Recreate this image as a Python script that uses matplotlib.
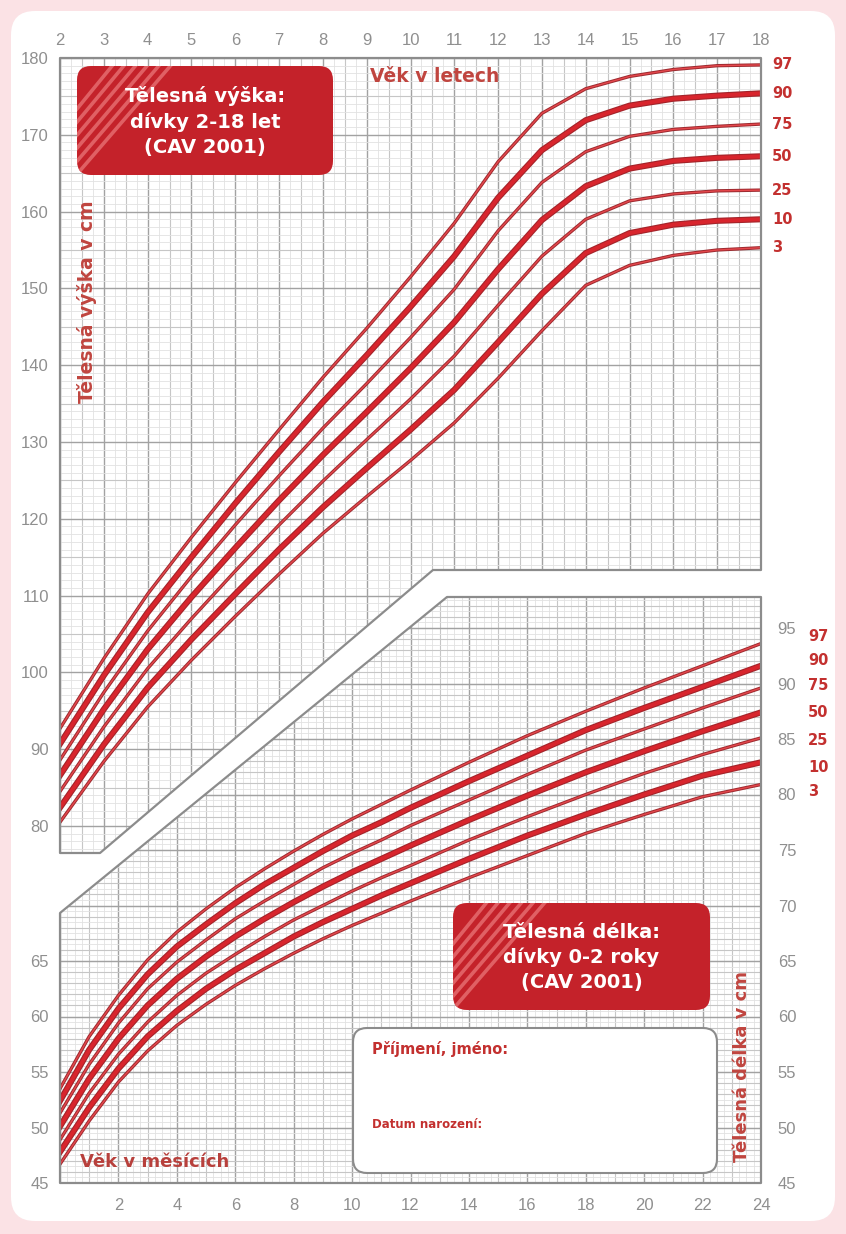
"""Growth chart: body height / length of girls (CAV 2001)
"""

import matplotlib
matplotlib.use("Agg")
import matplotlib.pyplot as plt
import matplotlib.patheffects as pe
from matplotlib.patches import FancyBboxPatch, Polygon
import numpy as np

plt.rcParams['font.family'] = ['Liberation Sans', 'DejaVu Sans']

# Height 2-18 years (cm), percentiles
age_years = [2, 3, 4, 5, 6, 7, 8, 9, 10, 11, 12, 13, 14, 15, 16, 17, 18]
height_p97 = [92.7, 101.8, 110.2, 117.6, 124.7, 131.6, 138.4, 144.8, 151.5, 158.5, 166.5, 172.8, 176.0, 177.6, 178.5, 179.0, 179.1]
height_p90 = [90.7, 99.6, 107.8, 115.0, 122.0, 128.7, 135.2, 141.3, 147.6, 154.2, 161.8, 168.0, 171.9, 173.8, 174.7, 175.1, 175.4]
height_p75 = [88.6, 97.4, 105.4, 112.5, 119.2, 125.6, 131.8, 137.6, 143.6, 149.9, 157.5, 163.8, 167.8, 169.8, 170.7, 171.1, 171.4]
height_p50 = [86.6, 95.2, 103.0, 109.8, 116.2, 122.4, 128.3, 133.9, 139.6, 145.6, 152.5, 158.9, 163.3, 165.6, 166.6, 167.0, 167.2]
height_p25 = [84.5, 92.9, 100.5, 107.0, 113.2, 119.2, 124.9, 130.3, 135.6, 141.2, 147.8, 154.2, 159.0, 161.4, 162.3, 162.7, 162.8]
height_p10 = [82.4, 90.6, 98.0, 104.3, 110.2, 116.0, 121.5, 126.6, 131.6, 136.8, 143.0, 149.3, 154.6, 157.2, 158.3, 158.8, 159.0]
height_p3 = [80.5, 88.4, 95.5, 101.6, 107.3, 112.8, 118.1, 122.9, 127.6, 132.5, 138.3, 144.5, 150.4, 153.0, 154.3, 155.0, 155.3]

# Length 0-24 months (cm)
age_months = [0, 1, 2, 3, 4, 5, 6, 7, 8, 9, 10, 11, 12, 14, 16, 18, 20, 22, 24]
length_p97 = [53.5, 58.2, 61.9, 65.1, 67.6, 69.7, 71.6, 73.3, 74.9, 76.4, 77.8, 79.1, 80.4, 82.9, 85.3, 87.5, 89.6, 91.6, 93.6]
length_p90 = [52.4, 57.0, 60.7, 63.8, 66.3, 68.3, 70.2, 71.9, 73.4, 74.9, 76.3, 77.5, 78.8, 81.2, 83.5, 85.8, 87.8, 89.7, 91.6]
length_p75 = [51.3, 55.7, 59.4, 62.5, 64.9, 66.9, 68.8, 70.4, 71.9, 73.4, 74.7, 75.9, 77.2, 79.5, 81.8, 84.0, 85.9, 87.8, 89.6]
length_p50 = [50.1, 54.4, 58.0, 61.0, 63.4, 65.4, 67.2, 68.8, 70.3, 71.7, 73.0, 74.2, 75.4, 77.7, 79.9, 82.0, 83.9, 85.7, 87.4]
length_p25 = [48.9, 53.1, 56.6, 59.5, 61.9, 63.9, 65.6, 67.2, 68.7, 70.0, 71.3, 72.5, 73.6, 75.9, 78.0, 80.0, 81.9, 83.6, 85.1]
length_p10 = [47.8, 51.8, 55.3, 58.2, 60.5, 62.5, 64.2, 65.7, 67.2, 68.5, 69.7, 70.9, 72.0, 74.2, 76.3, 78.2, 80.0, 81.7, 82.9]
length_p3 = [46.7, 50.6, 54.1, 56.9, 59.2, 61.1, 62.8, 64.3, 65.7, 67.0, 68.2, 69.3, 70.4, 72.5, 74.5, 76.5, 78.2, 79.8, 80.9]

percentile_names = ['97', '90', '75', '50', '25', '10', '3']
height_curves = [height_p97, height_p90, height_p75, height_p50, height_p25, height_p10, height_p3]
length_curves = [length_p97, length_p90, length_p75, length_p50, length_p25, length_p10, length_p3]
thick_percentiles = {'90', '50', '10'}

height_ticks = list(range(80, 181, 10))
year_ticks = list(range(2, 19))
length_ticks = list(range(45, 96, 5))
length_ticks_left = list(range(45, 66, 5))
month_ticks = list(range(2, 25, 2))

# Page layout in pixels
W, H = 846, 1234
RED = '#c4222a'
LABEL_RED = '#c3302f'
GRAY_TXT = '#8f8f8f'
BORDER = '#8c8c8c'
BOLD_FONT = ['DejaVu Sans']


def px_rect(x0, y0, x1, y1):
    return [x0 / W, 1 - y1 / H, (x1 - x0) / W, (y1 - y0) / H]


fig = plt.figure(figsize=(W / 100, H / 100), dpi=100)
fig.patch.set_facecolor('#fbe2e5')

page = fig.add_axes([0, 0, 1, 1], zorder=0)
page.set_xlim(0, W)
page.set_ylim(H, 0)
page.axis('off')
page.add_patch(FancyBboxPatch((11, 11), 824, 1210,
                              boxstyle='round,pad=0,rounding_size=24',
                              fc='white', ec='none'))

over = fig.add_axes([0, 0, 1, 1], zorder=5)
over.set_xlim(0, W)
over.set_ylim(H, 0)
over.axis('off')
over.patch.set_alpha(0)

upper_outline = [(60, 58), (761, 58), (761, 570), (433, 570), (100, 853), (60, 853)]
lower_outline = [(60, 913), (447, 597), (761, 597), (761, 1183), (60, 1183)]

ax1 = fig.add_axes(px_rect(60, 58, 761, 853), zorder=1)
ax1.set_xlim(2, 18)
ax1.set_ylim(180 - (853 - 58) / 7.68, 180)

ax2 = fig.add_axes(px_rect(60, 597, 761, 1183), zorder=2)
ax2.set_xlim(0, 24)
ax2.set_ylim(45, 45 + (1183 - 597) / 11.1)

for ax in (ax1, ax2):
    ax.patch.set_alpha(0)
    for s in ax.spines.values():
        s.set_visible(False)
    ax.tick_params(length=0, labelsize=12, labelcolor=GRAY_TXT)


def draw_grid(ax, outline, xs, ys):
    """xs / ys: list of (values, color, width) from fine to major"""
    clip = Polygon(outline, closed=True, transform=page.transData)
    x0, x1 = ax.get_xlim()
    y0, y1 = ax.get_ylim()
    for vals, col, lw in xs:
        c = ax.vlines(vals, y0, y1, colors=col, linewidth=lw, zorder=1)
        c.set_clip_path(clip)
    for vals, col, lw in ys:
        c = ax.hlines(vals, x0, x1, colors=col, linewidth=lw, zorder=1)
        c.set_clip_path(clip)


FINE, MID, MAJOR = '#e2e2e2', '#c6c6c6', '#a2a2a2'
draw_grid(ax1, upper_outline,
          [(np.arange(2, 18.01, 0.25), FINE, 0.6),
           (np.arange(2.5, 18, 1), MID, 0.8),
           (np.arange(2, 19, 1), MAJOR, 1.0)],
          [(np.arange(76, 181, 1), FINE, 0.6),
           (np.arange(75, 181, 10), MID, 0.8),
           (np.arange(80, 181, 10), MAJOR, 1.0)])
draw_grid(ax2, lower_outline,
          [(np.arange(0, 24.01, 0.25), FINE, 0.6),
           (np.arange(1, 24, 2), MID, 0.8),
           (np.arange(0, 25, 2), MAJOR, 1.0)],
          [(np.arange(45, 98, 0.5), FINE, 0.6),
           (np.arange(45, 98, 1), MID, 0.8),
           (np.arange(45, 98, 5), MAJOR, 1.0)])


def draw_curves(ax, x, curves, label_dx, spread):
    y_mid = np.mean([c[-1] for c in curves])
    for name, vals in zip(percentile_names, curves):
        if name in thick_percentiles:
            ax.plot(x, vals, color='#d8252d', lw=2.8, zorder=3, solid_joinstyle='round',
                    path_effects=[pe.Stroke(linewidth=4.4, foreground='#a3242a'), pe.Normal()])
        else:
            ax.plot(x, vals, color='#e5474c', lw=1.0, zorder=3, solid_joinstyle='round',
                    path_effects=[pe.Stroke(linewidth=2.4, foreground='#9c2a2f'), pe.Normal()])
        dy = (vals[-1] - y_mid) * spread
        ax.annotate(name, xy=(x[-1], vals[-1]), xytext=(label_dx, dy), textcoords='offset points',
                    ha='left', va='center', fontsize=10.5, fontweight='bold', color=LABEL_RED,
                    family=BOLD_FONT, annotation_clip=False)


draw_curves(ax1, age_years, height_curves, 8, 0.0)
draw_curves(ax2, age_months, length_curves, 34, 0.8)

# Ticks
ax1.xaxis.tick_top()
ax1.set_xticks(year_ticks)
ax1.set_yticks(height_ticks)
ax1.tick_params(axis='x', pad=7)
ax1.tick_params(axis='y', pad=8)

ax2.yaxis.tick_right()
ax2.set_xticks(month_ticks)
ax2.set_yticks(length_ticks)
ax2.tick_params(axis='x', pad=11)
ax2.tick_params(axis='y', pad=12)

left2 = ax2.secondary_yaxis('left')
left2.set_yticks(length_ticks_left)
left2.tick_params(length=0, labelsize=12, labelcolor=GRAY_TXT, pad=8)
left2.spines['left'].set_visible(False)

# Outlines of both chart areas
for outline in (upper_outline, lower_outline):
    over.add_patch(Polygon(outline, closed=True, fill=False, ec=BORDER, lw=1.6, joinstyle='round'))


def title_box(x, y, w, h, text):
    box = FancyBboxPatch((x, y), w, h, boxstyle='round,pad=0,rounding_size=14',
                         fc=RED, ec='none', zorder=6)
    over.add_patch(box)
    for i in range(6):
        y0 = y + h - i * 13
        ln, = over.plot([x - 5, x - 5 + (y0 - y + 5) * 0.9], [y0 + 5, y - 5],
                        color='#e06064', lw=2.6, zorder=7, solid_capstyle='butt')
        ln.set_clip_path(box)
    over.text(x + w / 2, y + h / 2 + 1, text, ha='center', va='center', color='white',
              fontsize=14, fontweight='bold', linespacing=1.38, family=BOLD_FONT, zorder=8)


title_box(77, 66, 256, 109, 'Tělesná výška:\ndívky 2-18 let\n(CAV 2001)')
title_box(453, 903, 257, 107, 'Tělesná délka:\ndívky 0-2 roky\n(CAV 2001)')

# Name / birth date box
over.add_patch(FancyBboxPatch((353, 1028), 364, 145, boxstyle='round,pad=0,rounding_size=14',
                              fc='white', ec=BORDER, lw=1.5, zorder=6))
over.text(372, 1049, 'Příjmení, jméno:', ha='left', va='center', color='#c3302f',
          fontsize=10.5, fontweight='bold', family=BOLD_FONT, zorder=8)
over.text(372, 1125, 'Datum narození:', ha='left', va='center', color='#c3302f',
          fontsize=8.5, fontweight='bold', family=BOLD_FONT, zorder=8)

# Axis titles
over.text(370, 77, 'Věk v letech', ha='left', va='center', color='#c0453f',
          fontsize=13.5, fontweight='bold', family=BOLD_FONT, zorder=8)
over.text(80, 1162, 'Věk v měsících', ha='left', va='center', color='#b8403c',
          fontsize=13, fontweight='bold', family=BOLD_FONT, zorder=8)
over.text(87, 302, 'Tělesná výška v cm', ha='center', va='center', rotation=90,
          color='#c0453f', fontsize=13.5, fontweight='bold', family=BOLD_FONT, zorder=8)
over.text(742, 1066, 'Tělesná délka v cm', ha='center', va='center', rotation=90,
          color='#c0453f', fontsize=13, fontweight='bold', family=BOLD_FONT, zorder=8)

fig.savefig('out.png', dpi=100, facecolor=fig.get_facecolor())
